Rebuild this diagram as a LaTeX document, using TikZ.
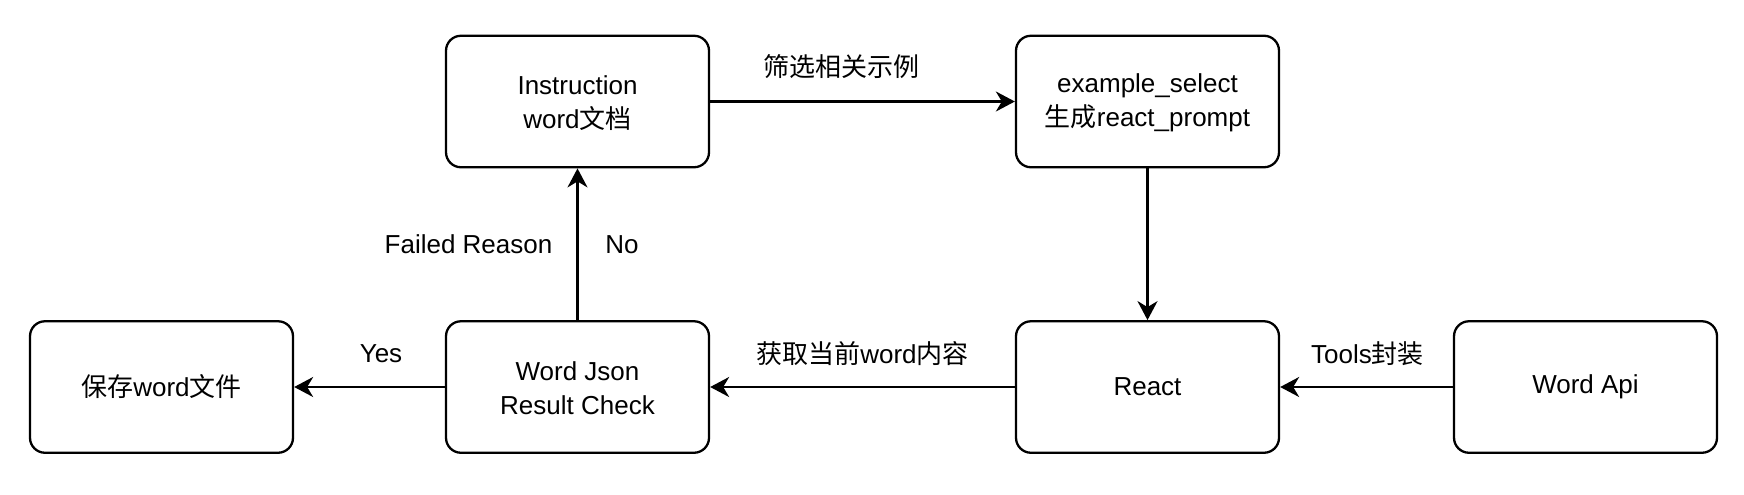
\documentclass[tikz,border=0pt]{standalone}
\usepackage{fontspec}
\setmainfont{Liberation Sans}
\newfontfamily\cjk{Noto Sans CJK SC}
\usetikzlibrary{arrows.meta}
\begin{document}
\begin{tikzpicture}[x=0.5pt,y=-0.5pt,
  box/.style={draw=black, line width=1.15pt, rounded corners=7.5pt, minimum width=131.5pt, minimum height=65.75pt, inner sep=0pt, align=center, font=\fontsize{13}{17}\selectfont},
  lbl/.style={anchor=base, inner sep=0pt, font=\fontsize{13}{16.5}\selectfont},
  conn/.style={line width=1.15pt, -{Stealth[length=9.5pt,width=10pt,inset=3pt]}}]
\useasboundingbox (0,0) rectangle (1744,494);
\node[box] (instr) at (577.5,101.5) {\rule{0pt}{11pt}Instruction\\word{\cjk 文档}};
\node[box] (ex) at (1147.5,101.5) {\rule{0pt}{11pt}example\_select\\{\cjk 生成}react\_prompt};
\node[box] (save) at (161.5,387) {{\cjk 保存}word{\cjk 文件}};
\node[box] (check) at (577.5,387) {\rule{0pt}{11pt}Word Json\\Result Check};
\node[box] (react) at (1147.5,387) {React};
\node[box] (api) at (1585.5,387) {Word Api};
\draw[conn] (instr) -- (ex);
\draw[conn] (ex) -- (react);
\draw[conn] (react) -- (check);
\draw[conn] (api) -- (react);
\draw[conn] (check) -- (save);
\draw[conn] (check) -- (instr);
\node[lbl] (l1) at (841,76) {\cjk 筛选相关示例};
\node[lbl] (l2) at (468.5,253) {Failed Reason};
\node[lbl] (l3) at (622,253) {No};
\node[lbl] (l4) at (381,362) {Yes};
\node[lbl] (l5) at (862.5,363) {{\cjk 获取当前}word{\cjk 内容}};
\node[lbl] (l6) at (1367.5,363) {Tools{\cjk 封装}};
\end{tikzpicture}
\end{document}
